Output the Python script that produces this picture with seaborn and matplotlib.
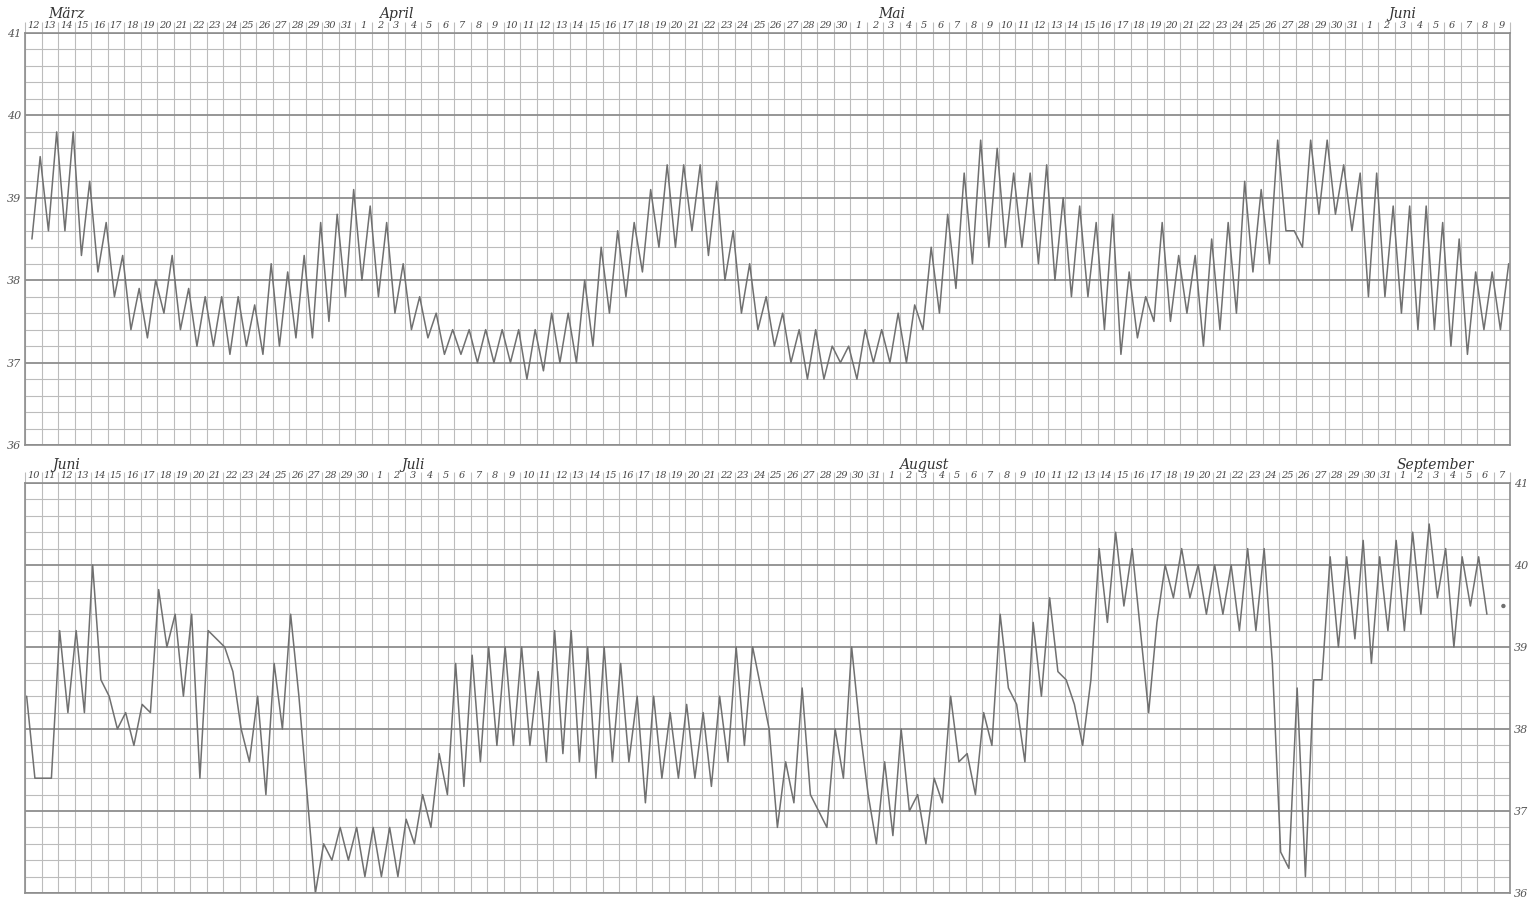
import numpy as np
import pandas as pd
import matplotlib
matplotlib.use('Agg')
import matplotlib.pyplot as plt
import seaborn as sns

# two readings per day (morning, evening), in degrees
top_temps = [
    38.5, 39.5, 38.6, 39.8, 38.6, 39.8, 38.3, 39.2, 38.1, 38.7,
    37.8, 38.3, 37.4, 37.9, 37.3, 38.0, 37.6, 38.3, 37.4, 37.9,
    37.2, 37.8, 37.2, 37.8, 37.1, 37.8, 37.2, 37.7, 37.1, 38.2,
    37.2, 38.1, 37.3, 38.3, 37.3, 38.7, 37.5, 38.8, 37.8, 39.1,
    38.0, 38.9, 37.8, 38.7, 37.6, 38.2, 37.4, 37.8, 37.3, 37.6,
    37.1, 37.4, 37.1, 37.4, 37.0, 37.4, 37.0, 37.4, 37.0, 37.4,
    36.8, 37.4, 36.9, 37.6, 37.0, 37.6, 37.0, 38.0, 37.2, 38.4,
    37.6, 38.6, 37.8, 38.7, 38.1, 39.1, 38.4, 39.4, 38.4, 39.4,
    38.6, 39.4, 38.3, 39.2, 38.0, 38.6, 37.6, 38.2, 37.4, 37.8,
    37.2, 37.6, 37.0, 37.4, 36.8, 37.4, 36.8, 37.2, 37.0, 37.2,
    36.8, 37.4, 37.0, 37.4, 37.0, 37.6, 37.0, 37.7, 37.4, 38.4,
    37.6, 38.8, 37.9, 39.3, 38.2, 39.7, 38.4, 39.6, 38.4, 39.3,
    38.4, 39.3, 38.2, 39.4, 38.0, 39.0, 37.8, 38.9, 37.8, 38.7,
    37.4, 38.8, 37.1, 38.1, 37.3, 37.8, 37.5, 38.7, 37.5, 38.3,
    37.6, 38.3, 37.2, 38.5, 37.4, 38.7, 37.6, 39.2, 38.1, 39.1,
    38.2, 39.7, 38.6, 38.6, 38.4, 39.7, 38.8, 39.7, 38.8, 39.4,
    38.6, 39.3, 37.8, 39.3, 37.8, 38.9, 37.6, 38.9, 37.4, 38.9,
    37.4, 38.7, 37.2, 38.5, 37.1, 38.1, 37.4, 38.1, 37.4, 38.2,
]

bottom_temps = [
    38.4, 37.4, 37.4, 37.4, 39.2, 38.2, 39.2, 38.2, 40.0, 38.6,
    38.4, 38.0, 38.2, 37.8, 38.3, 38.2, 39.7, 39.0, 39.4, 38.4,
    39.4, 37.4, 39.2, 39.1, 39.0, 38.7, 38.0, 37.6, 38.4, 37.2,
    38.8, 38.0, 39.4, 38.4, 37.2, 36.0, 36.6, 36.4, 36.8, 36.4,
    36.8, 36.2, 36.8, 36.2, 36.8, 36.2, 36.9, 36.6, 37.2, 36.8,
    37.7, 37.2, 38.8, 37.3, 38.9, 37.6, 39.0, 37.8, 39.0, 37.8,
    39.0, 37.8, 38.7, 37.6, 39.2, 37.7, 39.2, 37.6, 39.0, 37.4,
    39.0, 37.6, 38.8, 37.6, 38.4, 37.1, 38.4, 37.4, 38.2, 37.4,
    38.3, 37.4, 38.2, 37.3, 38.4, 37.6, 39.0, 37.8, 39.0, 38.5,
    38.0, 36.8, 37.6, 37.1, 38.5, 37.2, 37.0, 36.8, 38.0, 37.4,
    39.0, 38.0, 37.2, 36.6, 37.6, 36.7, 38.0, 37.0, 37.2, 36.6,
    37.4, 37.1, 38.4, 37.6, 37.7, 37.2, 38.2, 37.8, 39.4, 38.5,
    38.3,
    37.6, 39.3, 38.4, 39.6, 38.7, 38.6, 38.3, 37.8, 38.6, 40.2,
    39.3, 40.4, 39.5, 40.2, 39.2, 38.2, 39.3, 40.0, 39.6, 40.2,
    39.6, 40.0, 39.4, 40.0, 39.4, 40.0, 39.2, 40.2, 39.2, 40.2,
    38.8, 36.5, 36.3, 38.5, 36.2, 38.6, 38.6, 40.1, 39.0, 40.1,
    39.1, 40.3, 38.8, 40.1, 39.2, 40.3, 39.2, 40.4, 39.4, 40.5,
    39.6, 40.2, 39.0, 40.1, 39.5, 40.1, 39.4, np.nan, 39.5,
]

top_days = [*range(12, 32), *range(1, 31), *range(1, 32), *range(1, 10)]
bottom_days = [*range(10, 31), *range(1, 32), *range(1, 32), *range(1, 8)]
top_months = ['März', 'April', 'Mai', 'Juni']
top_month_start = [0, 20, 50, 81]
bottom_months = ['Juni', 'Juli', 'August', 'September']
bottom_month_start = [0, 21, 52, 83]
deg_ticks = [36, 37, 38, 39, 40, 41]

sns.set_style('white')
plt.rcParams['font.family'] = ['DejaVu Serif']

W, H = 1534, 897
fig = plt.figure(figsize=(W / 100, H / 100), dpi=100)
ax_top = fig.add_axes([25 / W, 1 - 445 / H, 1485 / W, 412 / H])
ax_bot = fig.add_axes([25 / W, 1 - 893 / H, 1485 / W, 410 / H])

grid_col = '#bcbcbc'
major_col = '#8e8e8e'
line_col = '#707070'


def draw_panel(ax, temps, offset, days, months, starts, right_labels):
    df = pd.DataFrame({'day': np.arange(len(temps)) * 0.5 + offset, 'temp': temps})
    # split at gaps: runs become lines, lone readings become dots
    seg = df['temp'].isna().cumsum()
    for _, part in df.dropna().groupby(seg[df['temp'].notna()]):
        if len(part) > 1:
            sns.lineplot(data=part, x='day', y='temp', ax=ax, color=line_col,
                         lw=1.1, sort=False, estimator=None)
        else:
            sns.scatterplot(data=part, x='day', y='temp', ax=ax, color=line_col,
                            s=10, edgecolor='none')

    ax.set_xlim(0, len(days))
    ax.set_ylim(36, 41)
    ax.set_axisbelow(True)

    ax.set_xticks(np.arange(len(days) + 1), minor=True)
    ax.set_xticks(np.arange(len(days)) + 0.5)
    ax.set_xticklabels([str(d) for d in days], fontsize=7, style='italic', color='#444')
    ax.xaxis.set_ticks_position('top')
    ax.tick_params(axis='x', which='major', length=0, pad=2, top=True, bottom=False,
                   labeltop=True, labelbottom=False)
    ax.tick_params(axis='x', which='minor', length=8, width=0.8, color=grid_col,
                   direction='out', top=True, bottom=False)

    ax.set_yticks(deg_ticks)
    ax.set_yticks(np.arange(36, 41.01, 0.2), minor=True)
    ax.set_yticklabels([str(t) for t in deg_ticks], fontsize=8, style='italic', color='#555')
    if right_labels:
        ax.yaxis.tick_right()
    ax.tick_params(axis='y', which='both', length=0, pad=3)

    ax.grid(True, axis='x', which='minor', color=grid_col, lw=0.8)
    ax.grid(True, axis='y', which='minor', color=grid_col, lw=0.8)
    ax.grid(True, axis='y', which='major', color=major_col, lw=1.3)
    for sp in ax.spines.values():
        sp.set_color(major_col)
        sp.set_linewidth(1.2)

    ax.set_xlabel('')
    ax.set_ylabel('')

    for name, s in zip(months, starts):
        ax.text(max(s + 2.5, 1.4), 1.045, name, transform=ax.get_xaxis_transform(),
                ha='center', va='center', fontsize=10, style='italic', color='#333')


draw_panel(ax_top, top_temps, 0.42, top_days, top_months, top_month_start, False)
draw_panel(ax_bot, bottom_temps, 0.1, bottom_days, bottom_months, bottom_month_start, True)

fig.savefig('out.png', dpi=100, facecolor='white')
